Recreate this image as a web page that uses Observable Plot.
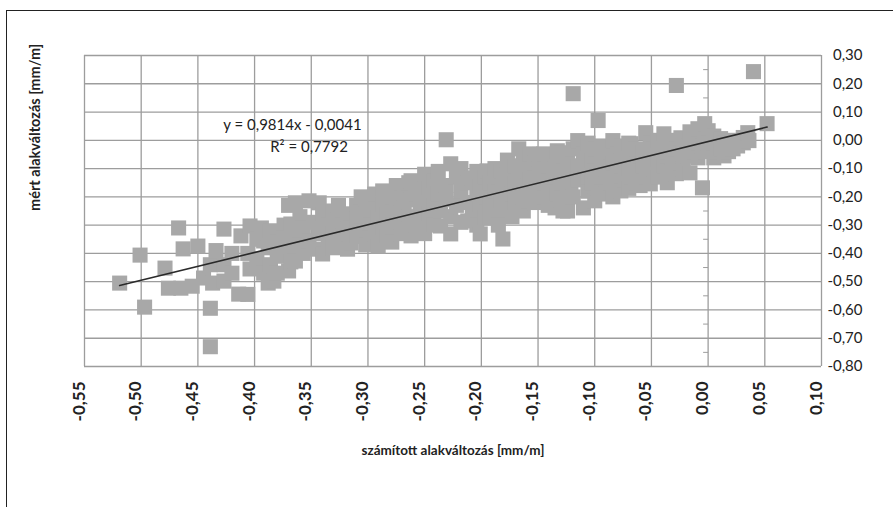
<!DOCTYPE html>
<html>
<head>
<meta charset="utf-8">
<script src="https://cdn.jsdelivr.net/npm/d3@7"></script>
<script src="https://cdn.jsdelivr.net/npm/@observablehq/plot@0.6"></script>
<style>
  html, body { margin: 0; padding: 0; background: #fff; }
  #chart { position: relative; width: 893px; height: 507px; overflow: hidden; }
  #frame { position: absolute; left: 6px; top: 10px; width: 1000px; height: 1000px;
           border-left: 1.5px solid #222; border-top: 1.5px solid #222; pointer-events: none; }
</style>
</head>
<body>
<div id="chart"><div id="frame"></div></div>
<script>
// számított (calculated) strain, mm/m
const calcX = [
  -0.519, -0.501, -0.497,
  -0.479, -0.476, -0.467, -0.465, -0.463,
  -0.455, -0.450, -0.445, -0.439, -0.439, -0.439,
  -0.437, -0.434, -0.427, -0.427, -0.427, -0.420, -0.420,
  -0.414, -0.412, -0.406, -0.406, -0.404, -0.404,
  -0.398, -0.398, -0.394, -0.392, -0.392, -0.388, -0.388,
  -0.386, -0.386, -0.383, -0.380, -0.380, -0.380,
  -0.374, -0.374, -0.374, -0.370, -0.370, -0.370,
  -0.368, -0.368, -0.364, -0.364, -0.364, -0.360, -0.360,
  -0.357, -0.357, -0.352, -0.352, -0.348, -0.348,
  -0.343, -0.343, -0.340, -0.340, -0.335, -0.335,
  -0.331, -0.331, -0.331, -0.326, -0.326, -0.322, -0.322,
  -0.318, -0.318, -0.315, -0.315, -0.310, -0.310, -0.310,
  -0.306, -0.306, -0.302, -0.302, -0.302, -0.298, -0.298, -0.298,
  -0.294, -0.294, -0.291, -0.291, -0.287, -0.287, -0.287,
  -0.283, -0.283, -0.279, -0.279, -0.279, -0.275, -0.275,
  -0.271, -0.271, -0.271, -0.268, -0.268, -0.264, -0.264, -0.264,
  -0.262, -0.262, -0.262, -0.258, -0.258, -0.254, -0.254, -0.254,
  -0.250, -0.250, -0.250, -0.246, -0.246, -0.242, -0.242, -0.242,
  -0.238, -0.238, -0.236, -0.236, -0.231, -0.231, -0.231,
  -0.227, -0.227, -0.227, -0.222, -0.222, -0.218, -0.218, -0.218,
  -0.212, -0.212, -0.212, -0.208, -0.208, -0.204, -0.204, -0.204,
  -0.201, -0.201, -0.201, -0.197, -0.197, -0.195, -0.195,
  -0.192, -0.192, -0.192, -0.188, -0.188, -0.185, -0.185, -0.185,
  -0.183, -0.183, -0.181, -0.181, -0.177, -0.177, -0.177,
  -0.173, -0.173, -0.170, -0.170, -0.170, -0.167, -0.167,
  -0.163, -0.163, -0.163, -0.159, -0.159, -0.159, -0.157, -0.157,
  -0.153, -0.153, -0.153, -0.149, -0.149, -0.145, -0.145, -0.145,
  -0.141, -0.141, -0.141, -0.137, -0.137, -0.135, -0.135,
  -0.133, -0.133, -0.130, -0.130, -0.130, -0.128, -0.128,
  -0.124, -0.124, -0.124, -0.121, -0.121, -0.119, -0.119, -0.119,
  -0.115, -0.115, -0.115, -0.110, -0.110, -0.110, -0.106, -0.106, -0.106,
  -0.102, -0.102, -0.100, -0.100, -0.100, -0.097, -0.097,
  -0.094, -0.094, -0.094, -0.090, -0.090, -0.086, -0.086,
  -0.084, -0.084, -0.084, -0.080, -0.080, -0.077, -0.077, -0.077,
  -0.073, -0.073, -0.070, -0.070, -0.070, -0.068, -0.068,
  -0.064, -0.064, -0.064, -0.060, -0.060, -0.057, -0.057,
  -0.055, -0.055, -0.051, -0.051, -0.051, -0.048, -0.048,
  -0.044, -0.044, -0.044, -0.039, -0.039, -0.036, -0.036, -0.036,
  -0.032, -0.032, -0.028, -0.028, -0.028, -0.024, -0.024,
  -0.022, -0.022, -0.022, -0.018, -0.018, -0.016, -0.016,
  -0.012, -0.012, -0.009, -0.009, -0.005, -0.005,
  -0.003, -0.003, -0.003, 0.000, 0.000, 0.005, 0.005,
  0.008, 0.011, 0.011, 0.014, 0.014, 0.018,
  0.022, 0.022, 0.026, 0.031, 0.031, 0.035, 0.036,
  0.040, 0.052
];

// mért (measured) strain, mm/m — same order as calcX
const measY = [
  -0.505, -0.406, -0.590,
  -0.452, -0.523, -0.310, -0.523, -0.384,
  -0.516, -0.374, -0.487, -0.440, -0.594, -0.730,
  -0.505, -0.390, -0.314, -0.440, -0.498, -0.470, -0.400,
  -0.544, -0.338, -0.400, -0.545, -0.303, -0.455,
  -0.350, -0.420, -0.310, -0.356, -0.470, -0.505, -0.380,
  -0.320, -0.440, -0.498, -0.360, -0.410, -0.470,
  -0.400, -0.300, -0.345, -0.462, -0.380, -0.230,
  -0.296, -0.430, -0.221, -0.427, -0.340, -0.370, -0.270,
  -0.310, -0.400, -0.214, -0.355, -0.290, -0.385,
  -0.221, -0.330, -0.402, -0.260, -0.300, -0.360,
  -0.380, -0.250, -0.330, -0.280, -0.230, -0.340, -0.300,
  -0.260, -0.385, -0.363, -0.310, -0.230, -0.280, -0.340,
  -0.200, -0.320, -0.207, -0.260, -0.370, -0.300, -0.345, -0.240,
  -0.190, -0.330, -0.374, -0.270, -0.179, -0.225, -0.310,
  -0.260, -0.340, -0.200, -0.300, -0.360, -0.160, -0.250,
  -0.203, -0.290, -0.330, -0.240, -0.175, -0.150, -0.270, -0.314,
  -0.338, -0.143, -0.210, -0.190, -0.300, -0.240, -0.160, -0.280,
  -0.120, -0.330, -0.210, -0.170, -0.260, -0.143, -0.300, -0.230,
  -0.190, -0.110, -0.303, -0.250, 0.002, -0.160, -0.210,
  -0.083, -0.270, -0.331, -0.130, -0.230, -0.180, -0.290, -0.100,
  -0.285, -0.150, -0.220, -0.133, -0.250, -0.190, -0.300, -0.110,
  -0.331, -0.160, -0.230, -0.130, -0.270, -0.108, -0.200,
  -0.274, -0.150, -0.230, -0.180, -0.100, -0.250, -0.130, -0.300,
  -0.108, -0.210, -0.349, -0.160, -0.120, -0.230, -0.070,
  -0.190, -0.270, -0.090, -0.150, -0.220, -0.030, -0.120,
  -0.200, -0.060, -0.250, -0.214, -0.100, -0.160, -0.048, -0.140,
  -0.180, -0.080, -0.220, -0.120, -0.050, -0.048, -0.200, -0.150,
  -0.090, -0.230, -0.170, -0.060, -0.130, -0.239, -0.100,
  -0.037, -0.190, -0.044, -0.150, -0.210, -0.250, -0.110,
  -0.250, -0.070, -0.170, -0.168, -0.120, 0.165, -0.030, -0.200,
  -0.001, -0.090, -0.140, -0.239, -0.097, -0.050, -0.180, -0.130, -0.010,
  -0.070, -0.150, -0.214, -0.030, -0.110, 0.070, -0.170,
  -0.060, -0.130, -0.020, -0.100, -0.190, -0.040, -0.150,
  -0.001, -0.080, -0.200, -0.120, -0.050, -0.179, -0.020, -0.090,
  -0.140, -0.060, -0.100, -0.010, -0.170, -0.012, -0.130,
  -0.070, -0.150, -0.030, -0.110, -0.160, -0.040, -0.090,
  0.027, -0.130, -0.154, -0.060, -0.010, -0.100, -0.030,
  -0.130, -0.070, 0.000, 0.023, -0.090, -0.040, -0.110, -0.150,
  -0.060, 0.000, 0.194, -0.118, -0.030, 0.009, -0.080,
  0.006, -0.055, -0.100, -0.055, -0.020, -0.115, 0.030,
  -0.040, 0.010, -0.062, 0.041, -0.168, -0.020,
  0.059, 0.000, -0.040, 0.034, -0.010, -0.062, 0.015,
  -0.040, 0.006, -0.030, -0.055, -0.010, -0.040,
  -0.030, 0.000, -0.020, -0.009, 0.010, 0.027, -0.001,
  0.243, 0.059
];

// Linear trend line (least squares) and its fit
const trendSlope = 0.9814;
const trendIntercept = -0.0041;
const trendR2 = 0.7792;

const xTicks = [-0.55, -0.50, -0.45, -0.40, -0.35, -0.30, -0.25, -0.20, -0.15, -0.10, -0.05, 0.00, 0.05, 0.10];
const yTicks = [0.30, 0.20, 0.10, 0.00, -0.10, -0.20, -0.30, -0.40, -0.50, -0.60, -0.70, -0.80];
const yMinorTicks = [0.25, 0.15, 0.05, -0.05, -0.15, -0.25, -0.35, -0.45, -0.55, -0.65, -0.75];

const xTitle = "számított alakváltozás [mm/m]";
const yTitle = "mért alakváltozás [mm/m]";

// Hungarian decimal comma, plain hyphen for negatives
const fmtNum = (v, digits) => {
  const s = Math.abs(v).toFixed(digits).replace(".", ",");
  return (v < 0 && Math.abs(v) > 1e-9 ? "-" : "") + s;
};

const points = calcX.map((x, i) => ({x, y: measY[i]}));
const [xMin, xMax] = d3.extent(calcX);
const trend = [xMin, xMax].map(x => ({x, y: trendSlope * x + trendIntercept}));

const eqLines = [
  {x: -0.3666, y: 0.055, text: `y = ${fmtNum(trendSlope, 4)}x - ${fmtNum(-trendIntercept, 4)}`},
  {x: -0.352, y: -0.023, text: `R² = ${fmtNum(trendR2, 4)}`}
];

// small tick marks along the vertical axis at x = 0
const leftTick = {
  draw(context) { context.moveTo(-5, 0); context.lineTo(0, 0); }
};

const chart = Plot.plot({
  width: 893,
  height: 507,
  marginLeft: 84,
  marginRight: 72,
  marginTop: 55,
  marginBottom: 141,
  x: {domain: [-0.55, 0.10], axis: null},
  y: {domain: [-0.80, 0.30], axis: null},
  style: {fontFamily: "Lato, sans-serif", background: "transparent", color: "#222"},
  marks: [
    Plot.gridX(xTicks, {stroke: "#9d9d9d", strokeOpacity: 1, strokeWidth: 1.3}),
    Plot.gridY(yTicks, {stroke: "#9d9d9d", strokeOpacity: 1, strokeWidth: 1.3}),
    Plot.dot(yMinorTicks, {x: () => 0, y: d => d, symbol: leftTick, stroke: "#9d9d9d", strokeWidth: 1, r: 3}),
    Plot.dot(points, {x: "x", y: "y", symbol: "square", r: 8.5, fill: "#a8a8a8", stroke: "none"}),
    Plot.line(trend, {x: "x", y: "y", stroke: "#2a2a2a", strokeWidth: 1.6}),
    Plot.text(eqLines, {x: "x", y: "y", text: "text", fontSize: 15, fill: "#222"}),
    Plot.text(yTicks, {y: d => d, frameAnchor: "right", dx: 41, textAnchor: "end",
      text: d => fmtNum(d, 2), fontSize: 15, fill: "#222"}),
    Plot.text(xTicks, {x: d => d, frameAnchor: "bottom", dy: 15, rotate: -90, textAnchor: "end",
      text: d => fmtNum(d, 2), fontSize: 17, fontWeight: "bold", fill: "#222"}),
    Plot.text([yTitle], {frameAnchor: "left", dx: -49, rotate: -90, text: d => d,
      fontSize: 14.5, fontWeight: "bold", fill: "#222"}),
    Plot.text([xTitle], {frameAnchor: "bottom", dy: 88, text: d => d,
      fontSize: 13.5, fontWeight: "bold", fill: "#222"})
  ]
});

document.getElementById("chart").prepend(chart);
</script>
</body>
</html>
